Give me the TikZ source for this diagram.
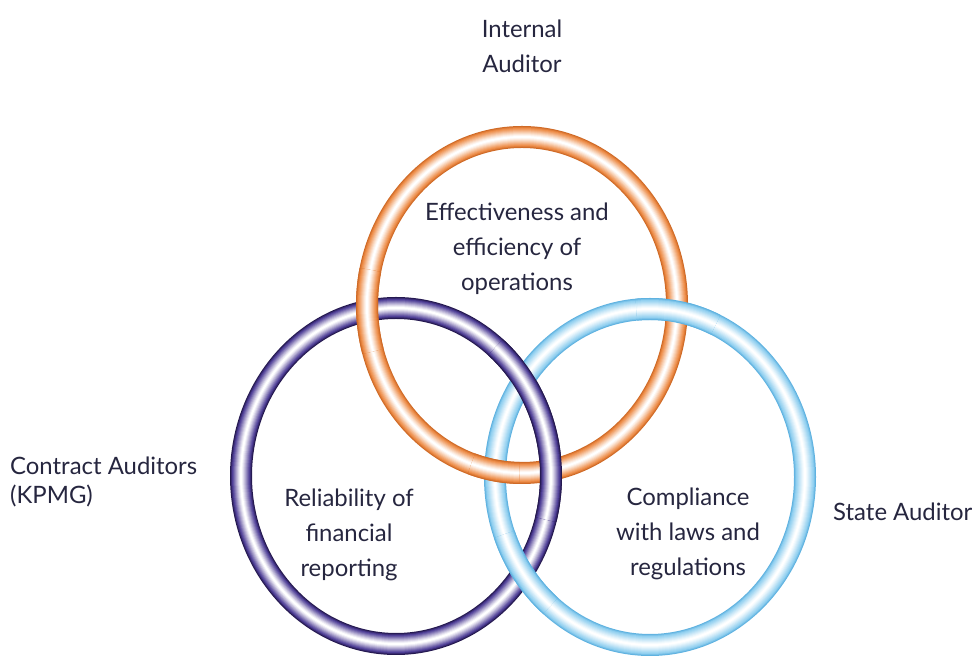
\documentclass[tikz,border=0pt]{standalone}
\usepackage{fontspec}
\setmainfont{Lato}
\definecolor{txtc}{HTML}{26263F}
\definecolor{ordark}{HTML}{CF6A26}
\definecolor{ormid}{HTML}{EE8E4A}
\definecolor{pudark}{HTML}{24184F}
\definecolor{pumid}{HTML}{4E3E96}
\definecolor{bldark}{HTML}{5FB2E0}
\definecolor{blmid}{HTML}{92D0F0}
\newcommand\tube[3]{\foreach \w/\c in {22/#1, 20/#1!50!#2, 18/#2, 16/#2!88!white, 14/#2!74!white, 12/#2!60!white, 10/#2!46!white, 8/#2!33!white, 6/#2!20!white, 4/#2!9!white, 2/white}{\draw[line width=\w bp, draw=\c] #3;}}
\newcommand\ringfull[3]{\tube{#1}{#2}{(#3) ellipse [x radius=155, y radius=168]}}
\newcommand\ringarc[5]{\tube{#1}{#2}{(#3) ++(#4:155 and 168) arc[start angle=#4, end angle=#5, x radius=155, y radius=168]}}
\begin{document}
\begin{tikzpicture}[x=1bp,y=1bp,
  lbl/.style={font=\fontsize{24}{35}\selectfont, text=txtc, align=center, inner sep=0pt}]
\useasboundingbox (0,0) rectangle (976,659);
\coordinate (co) at (522,354);
\coordinate (cp) at (396,183);
\coordinate (cb) at (650,182);
% full rings
\ringfull{pudark}{pumid}{cp}
\ringfull{bldark}{blmid}{cb}
\ringfull{ordark}{ormid}{co}
% over-crossings
\ringarc{ordark}{ormid}{co}{168}{196}
\ringarc{ordark}{ormid}{co}{251}{269}
\ringarc{bldark}{blmid}{cb}{65}{95}
\ringarc{bldark}{blmid}{cb}{200}{230}
\ringarc{pudark}{pumid}{cp}{-15}{50}
% labels
\node[lbl] (ia) at (522,613) {Internal\\Auditor};
\node[lbl] (eff) at (517,410) {Effectiveness and\\efficiency of\\operations};
\node[lbl] (rel) at (349,124) {Reliability of\\financial\\reporting};
\node[lbl] (comp) at (688,125) {Compliance\\with laws and\\regulations};
\node[lbl, align=left, anchor=west, font=\fontsize{24}{30}\selectfont] (ca) at (10,177) {Contract Auditors\\(KPMG)};
\node[lbl, anchor=west] (sa) at (833,147) {State Auditor};
\end{tikzpicture}
\end{document}
